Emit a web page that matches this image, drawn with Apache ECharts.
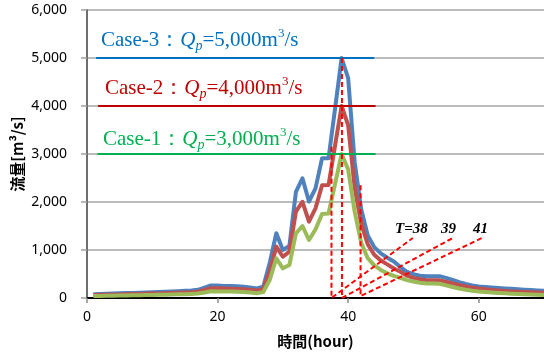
<!DOCTYPE html>
<html>
<head>
<meta charset="utf-8">
<script src="https://cdn.jsdelivr.net/npm/echarts@6/dist/echarts.min.js"></script>
<style>
  html, body { margin: 0; padding: 0; background: #fff; }
  #chart { width: 544px; height: 358px; }
</style>
</head>
<body>
<div id="chart"></div>
<script>
// 時間 (hour)
var hours = [1,2,3,4,5,6,7,8,9,10,11,12,13,14,15,16,17,18,19,20,
  21,22,23,24,25,26,27,28,29,30,31,32,33,34,35,36,37,38,39,40,
  41,42,43,44,45,46,47,48,49,50,51,52,53,54,55,56,57,58,59,60,
  61,62,63,64,65,66,67,68,69,70];

// Case-3 : Qp=5,000
var case3 = [80,84,88,93,97,102,106,111,116,121,125,130,136,142,150,158,170,215,262,258,
  252,248,243,233,218,200,235,740,1350,1000,1085,2210,2495,2010,2285,2910,2910,3950,5000,4580,
  2830,1850,1300,1060,930,840,760,645,545,495,465,455,455,452,420,378,330,292,262,242,
  230,220,210,200,191,181,173,166,158,152];

// Case-2 : Qp=4,000
var case2 = [60,63,67,70,74,77,81,85,88,92,95,99,103,108,114,120,130,168,205,202,
  198,195,190,182,170,155,182,560,1070,860,965,1800,2005,1590,1868,2350,2355,3180,4000,3600,
  2300,1550,1120,900,780,700,615,545,465,420,390,372,370,368,338,305,270,240,214,196,
  182,168,156,146,138,131,125,120,115,111];

// Case-1 : Qp=3,000
var case1 = [40,42,45,47,50,52,55,58,61,64,66,69,72,76,80,85,92,116,140,138,
  136,133,130,125,116,100,122,380,826,618,687,1347,1500,1208,1430,1750,1760,2380,3000,2680,
  1800,1150,830,680,585,515,460,420,372,342,318,304,300,298,262,228,197,172,152,137,
  126,115,106,98,91,85,78,72,66,62];

// Qp lines
var qp3Line = [[1.4, 5000], [44, 5000]];
var qp2Line = [[1.7, 4000], [44.2, 4000]];
var qp1Line = [[1.6, 3000], [44.2, 3000]];

// T=38, 39, 41 の補助線
var t38Line = [[37.45, 3150], [37.45, 0], [49.9, 1250]];
var t39Line = [[39.05, 5000], [39.05, 0], [56.3, 1270]];
var t41Line = [[41.9, 2350], [41.9, 40], [60.5, 1250]];

function pairs(xs, ys) {
  return xs.map(function (x, i) { return [x, ys[i]]; });
}

function caseRich(c) {
  var fam = 'Liberation Serif';
  return {
    a: { fill: c, fontSize: 21, fontFamily: fam, lineHeight: 26 },
    q: { fill: c, fontSize: 21, fontFamily: fam, fontStyle: 'italic', lineHeight: 26 },
    s: { fill: c, fontSize: 14, fontFamily: fam, fontStyle: 'italic', lineHeight: 12, verticalAlign: 'bottom' },
    u: { fill: c, fontSize: 13, fontFamily: fam, lineHeight: 18, verticalAlign: 'top' }
  };
}

var chart = echarts.init(document.getElementById('chart'), null, { renderer: 'canvas' });

var curve = function (name, data, color) {
  return {
    name: name, type: 'line', data: pairs(hours, data), symbol: 'none',
    lineStyle: { color: color, width: 4, join: 'round' }, silent: true
  };
};
var straight = function (data, color, dashed) {
  return {
    type: 'line', data: data, symbol: 'none', silent: true,
    lineStyle: { color: color, width: 2, type: dashed ? [5, 3] : 'solid' }
  };
};

chart.setOption({
  animation: false,
  grid: { left: 87, right: 0, top: 10, bottom: 60, outerBoundsMode: 'none' },
  xAxis: [{
    type: 'value', min: 0, max: 70, interval: 20,
    name: '時間(hour)', nameLocation: 'middle', nameGap: 36, nameMoveOverlap: false,
    nameTextStyle: { fontFamily: 'Noto Sans CJK JP', fontWeight: 'bold', fontSize: 15, color: '#000' },
    axisLine: { show: true, onZero: false, lineStyle: { color: '#6e6e6e', width: 2 } },
    axisTick: { show: true, length: 5, lineStyle: { color: '#8c8c8c', width: 1.5 } },
    axisLabel: { fontSize: 14, color: '#000', fontFamily: 'Noto Sans', margin: 12, showMaxLabel: false },
    splitLine: { show: false }
  }, {
    type: 'value', position: 'top', min: 0, max: 70,
    axisLine: { show: true, lineStyle: { color: '#000', width: 2 } },
    axisTick: { show: false }, axisLabel: { show: false }, splitLine: { show: false }
  }],
  yAxis: {
    type: 'value', min: 0, max: 6000, interval: 1000,
    name: '流量[m³/s]', nameLocation: 'middle', nameGap: 62, nameMoveOverlap: false,
    nameTextStyle: { fontFamily: 'Noto Sans CJK JP', fontWeight: 'bold', fontSize: 15, color: '#000' },
    axisLine: { show: true, lineStyle: { color: '#6e6e6e', width: 2 } },
    axisTick: { show: true, length: 6, lineStyle: { color: '#a0a0a0', width: 1.5 } },
    axisLabel: {
      fontSize: 14, color: '#000', fontFamily: 'Noto Sans', margin: 20,
      formatter: function (v) { return v.toLocaleString('en-US'); }
    },
    splitLine: { lineStyle: { color: '#a6a6a6', width: 1.5 } }
  },
  series: [
    curve('Case-3', case3, '#4F81BD'),
    curve('Case-2', case2, '#C0504D'),
    curve('Case-1', case1, '#9BBB59'),
    straight(qp3Line, '#0070C0'),
    straight(qp2Line, '#C00000'),
    straight(qp1Line, '#00B050'),
    straight(t38Line, '#FF0000', true),
    straight(t39Line, '#FF0000', true),
    straight(t41Line, '#FF0000', true)
  ],
  graphic: [
    { type: 'text', left: 101, top: 27, style: { text: '{a|Case-3：}{q|Q}{s|p}{a|=5,000m}{u|3}{a|/s}', rich: caseRich('#0070C0') } },
    { type: 'text', left: 105, top: 75, style: { text: '{a|Case-2：}{q|Q}{s|p}{a|=4,000m}{u|3}{a|/s}', rich: caseRich('#C00000') } },
    { type: 'text', left: 103, top: 126, style: { text: '{a|Case-1：}{q|Q}{s|p}{a|=3,000m}{u|3}{a|/s}', rich: caseRich('#00B050') } },
    { type: 'text', x: 395, y: 229, style: { text: 'T=38', font: 'italic bold 15px "Liberation Serif"', fill: '#000', verticalAlign: 'middle' } },
    { type: 'text', x: 441, y: 229, style: { text: '39', font: 'italic bold 15px "Liberation Serif"', fill: '#000', verticalAlign: 'middle' } },
    { type: 'text', x: 473, y: 229, style: { text: '41', font: 'italic bold 15px "Liberation Serif"', fill: '#000', verticalAlign: 'middle' } }
  ]
});
</script>
</body>
</html>
